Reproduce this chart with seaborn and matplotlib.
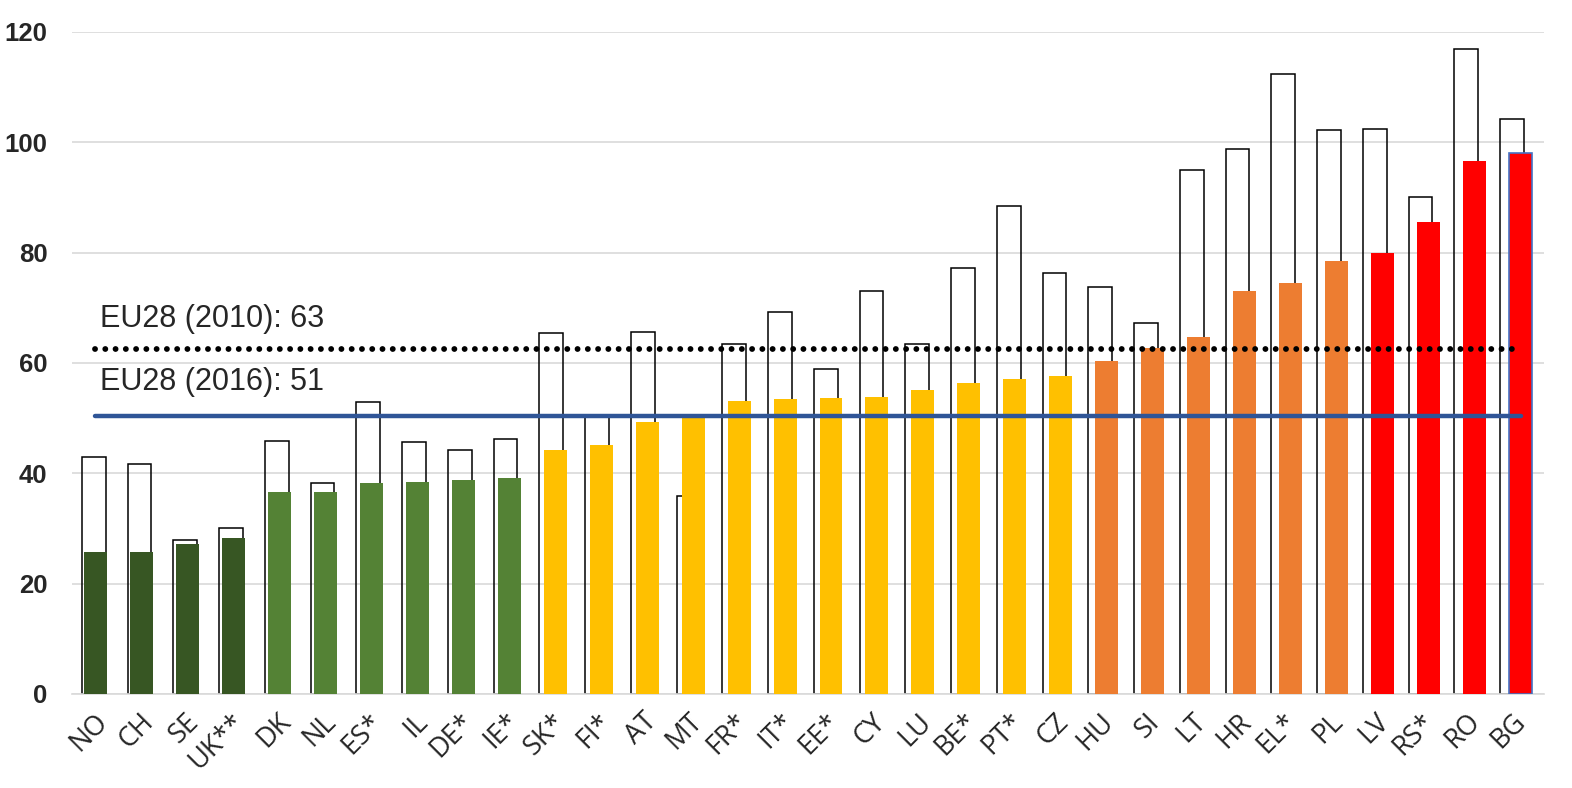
import numpy as np
import pandas as pd
import matplotlib
matplotlib.use("Agg")
import matplotlib.pyplot as plt
import seaborn as sns

countries = ["NO", "CH", "SE", "UK**", "DK", "NL", "ES*", "IL", "DE*", "IE*",
             "SK*", "FI*", "AT", "MT", "FR*", "IT*", "EE*", "CY", "LU", "BE*",
             "PT*", "CZ", "HU", "SI", "LT", "HR", "EL*", "PL", "LV", "RS*",
             "RO", "BG"]
val_2010 = [43.0, 41.7, 28.0, 30.1, 45.8, 38.2, 53.0, 45.7, 44.3, 46.3,
            65.4, 50.6, 65.6, 35.8, 63.4, 69.2, 59.0, 73.0, 63.4, 77.3,
            88.4, 76.4, 73.7, 67.2, 94.9, 98.7, 112.3, 102.2, 102.5, 90.0,
            117.0, 104.3]
val_2016 = [25.7, 25.7, 27.1, 28.3, 36.7, 36.7, 38.3, 38.4, 38.8, 39.2,
            44.2, 45.1, 49.3, 50.0, 53.1, 53.5, 53.7, 53.8, 55.1, 56.4,
            57.1, 57.6, 60.4, 62.7, 64.7, 73.0, 74.5, 78.5, 79.9, 85.6,
            96.6, 98.0]
groups = (["dark green"] * 4 + ["green"] * 6 + ["yellow"] * 12 +
          ["orange"] * 6 + ["red"] * 4)
group_colors = {"dark green": "#375623", "green": "#548235", "yellow": "#FFC000",
                "orange": "#ED7D31", "red": "#FF0000"}
eu_2010 = 62.6
eu_2016 = 50.4

df = pd.DataFrame({"country": countries, "y2010": val_2010,
                   "y2016": val_2016, "group": groups})
df["eu2010"] = eu_2010
df["eu2016"] = eu_2016
df["pos"] = np.arange(len(df))

sns.set_style("white")
plt.rcParams["font.family"] = ["Liberation Sans", "DejaVu Sans"]

fig = plt.figure(figsize=(15.72, 7.88), dpi=100)
ax = fig.add_axes([0.0461, 0.1193, 0.9358, 0.8401])

# 2010 outline columns (behind), slightly different category scale like Excel's secondary axis
sns.barplot(data=df, x="country", y="y2010", ax=ax, width=0.52,
            facecolor="none", edgecolor="black", linewidth=1.1, errorbar=None)
ax.set_xlim(-0.463, 31.69)
ax.set_ylim(0, 120)
ax.set_yticks(range(0, 121, 20))
ax.yaxis.grid(True, color="#d9d9d9", linewidth=1.2)
ax.set_axisbelow(True)
for s in ["top", "right", "left"]:
    ax.spines[s].set_visible(False)
ax.spines["bottom"].set_color("#d9d9d9")
ax.spines["bottom"].set_linewidth(1.2)
ax.tick_params(axis="both", length=0)
ax.tick_params(axis="y", pad=18)
for lab in ax.get_yticklabels():
    lab.set_fontsize(18.5)
    lab.set_fontweight("bold")
ax.set_xticks(range(len(countries)))
ax.set_xticklabels(countries, rotation=45, ha="right", rotation_mode="anchor",
                   fontsize=19.5, family=["Open Sans", "DejaVu Sans"])
ax.tick_params(axis="x", pad=10)
ax.set_xlabel("")
ax.set_ylabel("")

# 2016 filled columns + EU averages on top
ax2 = ax.twiny()
ax2.patch.set_visible(False)
sns.barplot(data=df, x="country", y="y2016", hue="group", palette=group_colors,
            ax=ax2, width=0.5, dodge=False, legend=False, errorbar=None,
            linewidth=0, saturation=1)
ax2.patches[-1].set_edgecolor("#4472C4")
ax2.patches[-1].set_linewidth(1.2)
sns.lineplot(data=df, x="pos", y="eu2010", ax=ax2, color="black",
             linewidth=4.2, linestyle=(0, (0.01, 1.75)), dash_capstyle="round")
sns.lineplot(data=df, x="pos", y="eu2016", ax=ax2, color="#2F5597",
             linewidth=3.2)
ax2.text(0.1, 66.6, "EU28 (2010): 63", fontsize=22, va="baseline", ha="left")
ax2.text(0.1, 55.1, "EU28 (2016): 51", fontsize=22, va="baseline", ha="left")
ax2.set_xlim(-0.5, 31.5)
ax2.set_ylim(0, 120)
ax2.set_xticks([])
ax2.set_xlabel("")
ax2.set_ylabel("")
for s in ax2.spines.values():
    s.set_visible(False)

fig.savefig("out.png", dpi=100)
